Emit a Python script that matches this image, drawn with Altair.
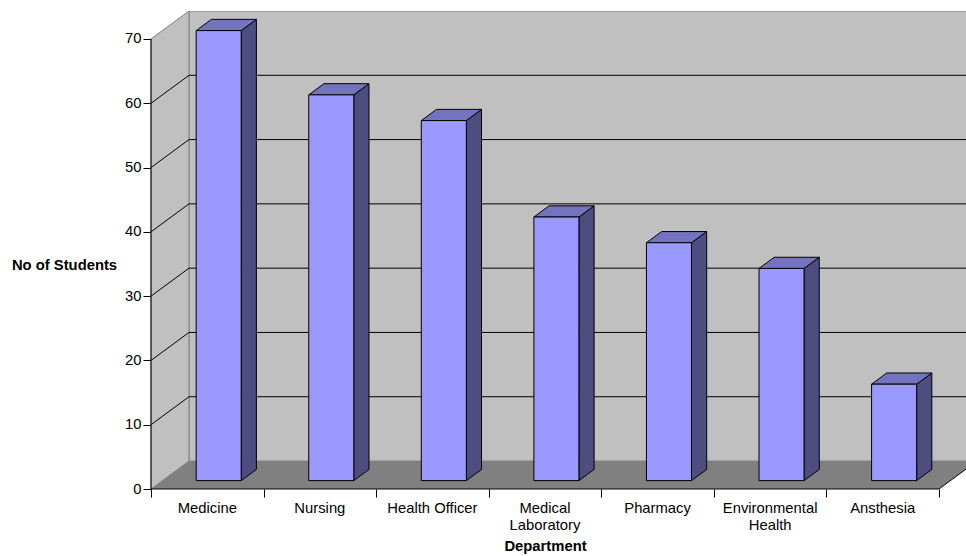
import altair as alt
import pandas as pd

# Students per department
departments = [
    "Medicine",
    "Nursing",
    "Health Officer",
    "Medical\nLaboratory",
    "Pharmacy",
    "Environmental\nHealth",
    "Ansthesia",
]
students = [70, 60, 56, 41, 37, 33, 15]
tick_values = [0, 10, 20, 30, 40, 50, 60, 70]

N = len(departments)
category_edges = list(range(N + 1))

# Pseudo-3D geometry, in data units
DEPTH_X = 0.3376      # depth of the floor along the category axis
DEPTH_Y = 4.35        # depth of the floor along the value axis
BAR_LEFT, BAR_RIGHT = 0.3, 0.7   # bar span inside its category
BAR_FRONT, BAR_BACK = 0.3, 0.7   # bar span along the depth
Y_TOP = 70
X_MAX = 7.24
Y_MAX = Y_TOP + DEPTH_Y

FONT = "Liberation Sans"
FONT_SIZE = 14.8
WALL = "#c0c0c0"
FLOOR = "#808080"
EDGE = "#808080"
BAR_FRONT_COLOR = "#9999ff"
BAR_SIDE_COLOR = "#4d4d80"
BAR_TOP_COLOR = "#7373c0"

xs = alt.Scale(domain=[0, X_MAX], nice=False, zero=False)
ys = alt.Scale(domain=[0, Y_MAX], nice=False, zero=False)

x_axis = alt.Axis(
    values=category_edges, labels=False, tickSize=8, tickColor="black", tickWidth=1,
    domain=False, grid=False, title="Department", titleFont=FONT,
    titleFontSize=FONT_SIZE, titleFontWeight="bold", titleColor="black",
    titleX=394, titleY=57, titleAlign="center", titleBaseline="middle",
)
y_axis = alt.Axis(
    values=tick_values, tickSize=8, tickColor="black", tickWidth=1, labelPadding=2,
    labelFont=FONT, labelFontSize=FONT_SIZE, labelColor="black", labelFlush=False,
    labelOverlap=False, domain=False, grid=False, title="No of Students",
    titleAngle=0, titleFont=FONT, titleFontSize=FONT_SIZE, titleFontWeight="bold",
    titleColor="black", titleX=-87, titleY=254, titleAlign="center",
    titleBaseline="middle",
)


def X(field, **kw):
    return alt.X(field, type="quantitative", scale=xs, axis=x_axis, **kw)


def Y(field, **kw):
    return alt.Y(field, type="quantitative", scale=ys, axis=y_axis, **kw)


# Back wall
wall_df = pd.DataFrame({"x": [DEPTH_X], "x2": [N + DEPTH_X],
                        "y": [DEPTH_Y], "y2": [Y_TOP + DEPTH_Y]})
back_wall = alt.Chart(wall_df).mark_rect(
    fill=WALL, stroke=EDGE, strokeWidth=1, clip=True
).encode(x=X("x"), x2="x2", y=Y("y"), y2="y2")

# Left side wall
side_df = pd.DataFrame({"x": [0, DEPTH_X], "y": [0, DEPTH_Y],
                        "y2": [Y_TOP, Y_TOP + DEPTH_Y]})
side_wall = alt.Chart(side_df).mark_area(
    orient="vertical", fill=WALL, stroke=EDGE, strokeWidth=1
).encode(x=X("x"), y=Y("y", stack=None), y2="y2")

# Floor
floor_df = pd.DataFrame({"y": [0, DEPTH_Y], "x": [0, DEPTH_X],
                         "x2": [N, N + DEPTH_X]})
floor = alt.Chart(floor_df).mark_area(
    orient="horizontal", fill=FLOOR, clip=True
).encode(y=Y("y"), x=X("x", stack=None), x2="x2")

# Gridlines on the back wall and on the side wall
inner_ticks = tick_values[1:-1]
back_grid_df = pd.DataFrame({"y": [v + DEPTH_Y for v in inner_ticks],
                             "x": DEPTH_X, "x2": N + DEPTH_X})
back_grid = alt.Chart(back_grid_df).mark_rule(
    color="black", strokeWidth=1, clip=True
).encode(x=X("x"), x2="x2", y=Y("y"))

side_grid_df = pd.DataFrame({"x": 0.0, "x2": DEPTH_X,
                             "y": inner_ticks,
                             "y2": [v + DEPTH_Y for v in inner_ticks]})
side_grid = alt.Chart(side_grid_df).mark_rule(
    color="black", strokeWidth=1
).encode(x=X("x"), x2="x2", y=Y("y"), y2="y2")

# Right edge of the floor
floor_edge_df = pd.DataFrame({"x": [N], "x2": [N + DEPTH_X], "y": [0], "y2": [DEPTH_Y]})
floor_edge = alt.Chart(floor_edge_df).mark_rule(
    color="black", strokeWidth=1, clip=True
).encode(x=X("x"), x2="x2", y=Y("y"), y2="y2")

# Axis lines
y_line_df = pd.DataFrame({"x": [0], "y": [0], "y2": [Y_TOP]})
y_line = alt.Chart(y_line_df).mark_rule(color="black", strokeWidth=1).encode(
    x=X("x"), y=Y("y"), y2="y2")
x_line_df = pd.DataFrame({"x": [0], "x2": [N], "y": [0]})
x_line = alt.Chart(x_line_df).mark_rule(color="black", strokeWidth=1).encode(
    x=X("x"), x2="x2", y=Y("y"))

# Bars: front face, right side face and top face
fx = BAR_FRONT * DEPTH_X
fy = BAR_FRONT * DEPTH_Y
bx = BAR_BACK * DEPTH_X
by = BAR_BACK * DEPTH_Y

front_df = pd.DataFrame({
    "dept": departments,
    "x": [i + BAR_LEFT + fx for i in range(N)],
    "x2": [i + BAR_RIGHT + fx for i in range(N)],
    "y": fy,
    "y2": [v + fy for v in students],
})
bar_front = alt.Chart(front_df).mark_rect(
    fill=BAR_FRONT_COLOR, stroke="black", strokeWidth=1
).encode(x=X("x"), x2="x2", y=Y("y"), y2="y2")

side_rows = []
top_rows = []
for i, (d, v) in enumerate(zip(departments, students)):
    side_rows.append({"dept": d, "x": i + BAR_RIGHT + fx, "y": fy, "y2": v + fy})
    side_rows.append({"dept": d, "x": i + BAR_RIGHT + bx, "y": by, "y2": v + by})
    top_rows.append({"dept": d, "y": v + fy, "x": i + BAR_LEFT + fx, "x2": i + BAR_RIGHT + fx})
    top_rows.append({"dept": d, "y": v + by, "x": i + BAR_LEFT + bx, "x2": i + BAR_RIGHT + bx})

bar_side = alt.Chart(pd.DataFrame(side_rows)).mark_area(
    orient="vertical", fill=BAR_SIDE_COLOR, stroke="black", strokeWidth=1
).encode(x=X("x"), y=Y("y", stack=None), y2="y2", detail="dept:N")

bar_top = alt.Chart(pd.DataFrame(top_rows)).mark_area(
    orient="horizontal", fill=BAR_TOP_COLOR, stroke="black", strokeWidth=1
).encode(y=Y("y"), x=X("x", stack=None), x2="x2", detail="dept:N")

# Category labels under the front edge
label_df = pd.DataFrame({"label": departments,
                         "x": [i + 0.5 for i in range(N)], "y": 0})
labels = alt.Chart(label_df).mark_text(
    align="center", baseline="top", dy=11.5, lineBreak="\n", lineHeight=17.7,
    font=FONT, fontSize=FONT_SIZE, color="black"
).encode(x=X("x"), y=Y("y"), text="label:N")

chart = alt.layer(
    back_wall, side_wall, floor, back_grid, side_grid, floor_edge,
    bar_side, bar_top, bar_front, y_line, x_line, labels,
).properties(
    width=815,
    height=478,
    autosize=alt.AutoSizeParams(type="none"),
    padding={"left": 151, "top": 11, "right": 0, "bottom": 67},
    background="white",
).configure_view(stroke=None)

chart.save("out.html", embed_options={"renderer": "svg", "actions": False})
